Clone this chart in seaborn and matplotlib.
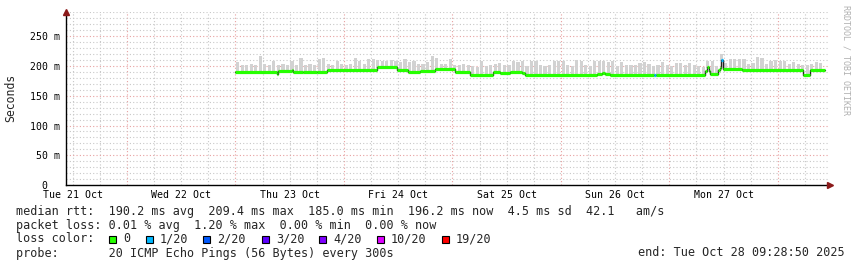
import numpy as np
import matplotlib
matplotlib.use('Agg')
import matplotlib.pyplot as plt
from matplotlib.patches import Rectangle
import seaborn as sns

# ---- data (x in hours since graph start, Tue 21 Oct 10:30) ----
med_start_h = [37.5, 46.7, 47.0, 50.0, 50.2, 52.4, 55.5, 57.7, 68.8, 73.2, 75.7,
               78.3, 81.6, 86.1, 89.4, 94.5, 96.0, 98.2, 100.9, 101.5, 117.5,
               118.5, 119.2, 120.4, 130.1, 130.6, 141.3, 141.8, 142.3, 142.6,
               144.2, 144.8, 145.0, 145.3, 149.6, 163.1, 164.6]
med_ms = [190.5, 186.0, 192.0, 193.5, 190.0, 190.5, 190.0, 192.5, 198.5, 193.5, 190.5,
          191.5, 195.0, 190.5, 185.0, 189.5, 188.0, 190.0, 188.0, 185.5, 186.0,
          187.5, 186.0, 185.5, 185.5, 185.5, 192.0, 198.0, 191.0, 187.0,
          194.0, 196.0, 209.4, 195.5, 193.0, 185.5, 193.0]
med_loss = [0, 0, 0, 0, 0, 0, 0, 0, 0, 0, 0,
            0, 0, 0, 0, 0, 0, 0, 0, 0, 0,
            0, 0, 0, 1, 0, 0, 0, 0, 0,
            0, 0, 1, 0, 0, 0, 0]
end_h = 167.9

smoke_h = list(range(38, 168))
smoke_top_ms = [207, 202, 201, 203, 202, 216, 203, 201, 208, 202,
                203, 202, 209, 202, 213, 201, 203, 202, 211, 213,
                203, 202, 208, 203, 202, 204, 213, 209, 203, 211,
                211, 210, 208, 209, 210, 209, 207, 211, 206, 208,
                204, 203, 206, 216, 214, 203, 204, 211, 202, 201,
                203, 201, 200, 199, 208, 200, 201, 203, 205, 202,
                201, 209, 207, 209, 200, 209, 208, 201, 200, 201,
                209, 208, 209, 201, 200, 210, 209, 201, 200, 208,
                209, 208, 207, 209, 200, 206, 201, 202, 201, 205,
                206, 204, 200, 201, 206, 201, 200, 205, 205, 201,
                205, 201, 200, 199, 208, 209, 200, 221, 205, 212,
                212, 211, 212, 203, 205, 215, 214, 203, 209, 210,
                209, 208, 203, 206, 204, 202, 201, 203, 206, 205]

y_ticks = [0, 50, 100, 150, 200, 250]
y_labels = ["0  ", "50 m", "100 m", "150 m", "200 m", "250 m"]
day_labels = ["Tue 21 Oct", "Wed 22 Oct", "Thu 23 Oct", "Fri 24 Oct",
              "Sat 25 Oct", "Sun 26 Oct", "Mon 27 Oct"]

loss_names = ["0", "1/20", "2/20", "3/20", "4/20", "10/20", "19/20"]
loss_colors = ["#26ff00", "#00b8ff", "#0059ff", "#5e00ff", "#7e00ff", "#dd00ff", "#ff0000"]

# ---- figure ----
sns.set_theme(style='white')
plt.rcParams['font.family'] = ['DejaVu Sans Mono', 'DejaVu Sans']
W, H = 857, 267
fig = plt.figure(figsize=(W / 100, H / 100), dpi=100)
fig.patch.set_facecolor('white')
ax = fig.add_axes([66 / W, 1 - 185 / H, (828 - 66) / W, (185 - 12) / H])
ax.set_facecolor('white')
ax.set_xlim(0, 168.6)
ax.set_ylim(0, 290.8)

# grid
dot = (0, (1, 2))
ax.set_yticks(y_ticks)
ax.set_yticklabels(y_labels)
ax.set_yticks([v for v in range(10, 291, 10) if v % 50 != 0], minor=True)
midnights = [13.5 + 24 * k for k in range(7)]
six_h = [1.5 + 6 * k for k in range(28) if (1.5 + 6 * k - 13.5) % 24 != 0]
ax.set_xticks(midnights)
ax.set_xticklabels([""] * len(midnights))
ax.set_xticks(six_h, minor=True)
noon_labels = []
for p in six_h:
    k = (p - 1.5) / 24
    noon_labels.append(day_labels[int(k)] if abs(k - round(k)) < 1e-6 and int(k) < 7 else "")
ax.set_xticklabels(noon_labels, minor=True)

ax.grid(which='major', color='#e8a0a0', linestyle=dot, linewidth=0.8)
ax.grid(which='minor', color='#c8c8c8', linestyle=dot, linewidth=0.8)
ax.set_axisbelow(True)
ax.tick_params(which='both', axis='both', direction='inout', length=3, width=0.6,
               color='#c04040', labelsize=7.1, labelcolor='black')
ax.tick_params(axis='x', which='both', pad=2.6)
ax.tick_params(axis='y', which='both', pad=3)
ax.tick_params(axis='y', which='minor', length=2, color='#a0a0a0')
ax.tick_params(axis='x', which='minor', length=2, color='#a0a0a0')

for s in ['top', 'right']:
    ax.spines[s].set_visible(False)
for s in ['left', 'bottom']:
    ax.spines[s].set_color('black')
    ax.spines[s].set_linewidth(1.0)

# smoke
med_arr = np.array(med_ms)
st = np.array(med_start_h)
idx = np.clip(np.searchsorted(st, np.array(smoke_h), side='right') - 1, 0, len(st) - 1)
base = med_arr[idx] - 1.5
top = np.array(smoke_top_ms)
ax.bar(smoke_h, top - base, bottom=base, width=0.7, color='#d2d2d2',
       linewidth=0, zorder=2)

# median: dark step line then loss-coloured segments
xs = med_start_h + [end_h]
ys = med_ms + [med_ms[-1]]
sns.lineplot(x=xs, y=ys, drawstyle='steps-post', color='#202020', linewidth=1.0,
             ax=ax, zorder=3, sort=False, estimator=None)
ends = med_start_h[1:] + [end_h]
ax.hlines(med_ms, med_start_h, ends,
          colors=[loss_colors[l] for l in med_loss], linewidth=2.3, zorder=4)

ax.set_xlabel("")
ax.set_ylabel("")

# arrows
ax.plot([0], [1], marker='^', color='#8b1a1a', markersize=4, transform=ax.transAxes,
        clip_on=False, zorder=6)
ax.plot([1.003], [0], marker='>', color='#8b1a1a', markersize=4, transform=ax.transAxes,
        clip_on=False, zorder=6)

def ftext(x, y, s, **kw):
    kw.setdefault('family', 'DejaVu Sans Mono')
    kw.setdefault('fontsize', 8.5)
    kw.setdefault('va', 'center')
    kw.setdefault('ha', 'left')
    fig.text(x / W, 1 - y / H, s, **kw)

ftext(11, 98, "Seconds", rotation=90, ha='center', fontsize=8.3)
ftext(846, 5, "RRDTOOL / TOBI OETIKER", rotation=270, ha='center', va='top',
      fontsize=6, color='#b0b0b0')

ftext(16, 211, "median rtt:  190.2 ms avg  209.4 ms max  185.0 ms min  196.2 ms now  4.5 ms sd  42.1   am/s")
ftext(16, 225, "packet loss: 0.01 % avg  1.20 % max  0.00 % min  0.00 % now")
ftext(16, 239, "loss color:")
sq_x = [109, 146, 203, 262, 319, 377, 442]
for x0, name, c in zip(sq_x, loss_names, loss_colors):
    fig.patches.append(Rectangle((x0 / W, 1 - 242.5 / H), 7 / W, 7 / H,
                                 transform=fig.transFigure, facecolor=c,
                                 edgecolor='black', linewidth=0.8))
    ftext(x0 + 14, 239, name)
ftext(16, 253, "probe:       20 ICMP Echo Pings (56 Bytes) every 300s")
ftext(638, 253, "end: Tue Oct 28 09:28:50 2025")

fig.savefig('out.png', dpi=100, facecolor='white')
